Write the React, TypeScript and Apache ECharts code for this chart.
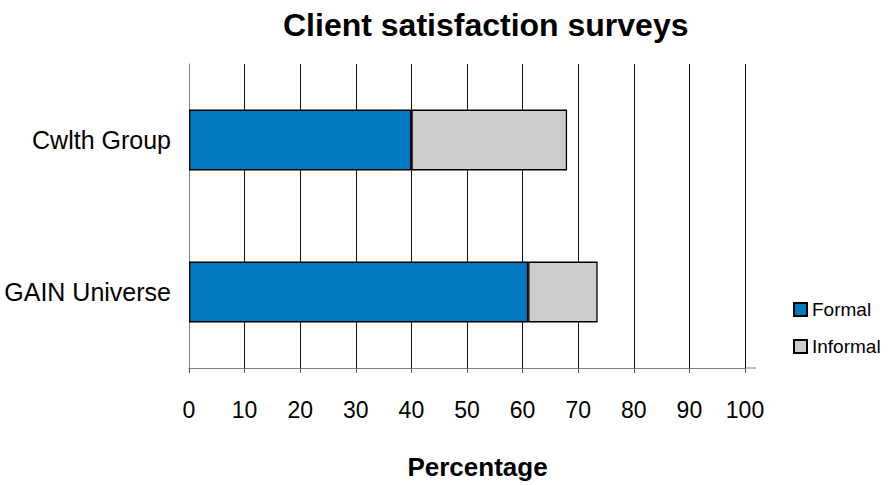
import React, { useEffect, useRef } from "react";
import * as echarts from "echarts";

// Survey groups, top to bottom as drawn (category axis runs bottom-up, so reversed below)
const groups = ["Cwlth Group", "GAIN Universe"];
const formalValues = [40, 61];
const informalValues = [28, 12.5];
const xTicks = [0, 10, 20, 30, 40, 50, 60, 70, 80, 90, 100];

const FONT = "'Liberation Sans', Arial, Helvetica, sans-serif";

export default function App() {
  const ref = useRef<HTMLDivElement>(null);

  useEffect(() => {
    if (!ref.current) return;
    const chart = echarts.init(ref.current, undefined, { renderer: "svg" });

    const cats = [...groups].reverse();
    const formal = [...formalValues].reverse();
    const informal = [...informalValues].reverse();

    const gridLeft = 189;
    const gridRight = 144;
    const gridTop = 64;
    const gridBottom = 117;

    chart.setOption({
      animation: false,
      backgroundColor: "#ffffff",
      textStyle: { fontFamily: FONT, color: "#000" },
      title: {
        text: "Client satisfaction surveys",
        left: 278,
        top: 4,
        textStyle: { fontFamily: FONT, fontSize: 32, fontWeight: "bold", color: "#000" },
      },
      legend: {
        orient: "vertical",
        left: 788,
        top: 295,
        itemWidth: 13,
        itemHeight: 13,
        itemGap: 18,
        icon: "rect",
        textStyle: { fontFamily: FONT, fontSize: 19, color: "#000" },
        data: ["Formal", "Informal"],
      },
      grid: {
        left: gridLeft,
        right: gridRight,
        top: gridTop,
        bottom: gridBottom,
        containLabel: false,
        outerBoundsMode: "none",
      },
      xAxis: {
        type: "value",
        min: xTicks[0],
        max: xTicks[xTicks.length - 1],
        interval: xTicks[1] - xTicks[0],
        name: "Percentage",
        nameLocation: "middle",
        nameGap: 86,
        nameTextStyle: { fontFamily: FONT, fontSize: 26, fontWeight: "bold", color: "#000", padding: [0, 0, 0, 21] },
        axisLine: { show: true, lineStyle: { color: "#808080", width: 1 } },
        axisTick: { show: true, length: 5, lineStyle: { color: "#555", width: 1 } },
        axisLabel: { fontFamily: FONT, fontSize: 23, color: "#000", margin: 30 },
        splitLine: { show: true, lineStyle: { color: "#111", width: 1 } },
      },
      yAxis: {
        type: "category",
        data: cats,
        axisLine: { show: true, lineStyle: { color: "#808080", width: 1 } },
        axisTick: { show: false },
        axisLabel: { fontFamily: FONT, fontSize: 25, color: "#000", margin: 18 },
        splitLine: { show: false },
      },
      series: [
        {
          name: "Formal",
          type: "bar",
          stack: "total",
          data: formal,
          barWidth: "40%",
          itemStyle: { color: "#0079C1", borderColor: "#000", borderWidth: 1.3 },
        },
        {
          name: "Informal",
          type: "bar",
          stack: "total",
          data: informal,
          barWidth: "40%",
          itemStyle: { color: "#CCCCCC", borderColor: "#000", borderWidth: 1.3 },
        },
      ],
      graphic: [
        {
          // axis line carries on a little past the last gridline
          type: "line",
          shape: { x1: 889 - gridRight, y1: 485 - gridBottom, x2: 889 - gridRight + 11, y2: 485 - gridBottom },
          style: { stroke: "#808080", lineWidth: 1 },
        },
      ],
    });

    return () => chart.dispose();
  }, []);

  return (
    <div
      ref={ref}
      style={{ position: "fixed", left: 0, top: 0, width: 889, height: 485, background: "#fff" }}
    />
  );
}
